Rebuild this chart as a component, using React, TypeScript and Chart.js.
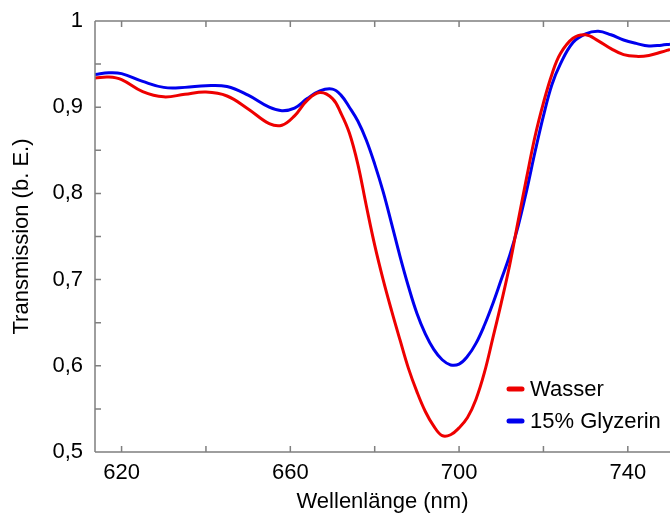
import React, { useEffect, useRef } from 'react';
import { Chart, registerables } from 'chart.js';
Chart.register(...registerables);

const wavelengths = [613.7, 617, 620, 625, 630, 635, 640, 645, 650, 655, 658, 661, 664, 667,
  670, 672, 674, 676, 678, 680, 682, 684, 686, 688, 690, 692, 694, 696, 698, 700, 702, 704, 706, 708, 710, 712, 714, 716, 718, 720, 722, 724,
  727, 730, 733, 736, 739, 742, 745, 748, 750];
const wasser = [0.934, 0.935, 0.932, 0.918, 0.912, 0.915, 0.9175, 0.913, 0.898, 0.881, 0.879, 0.890, 0.908, 0.917,
  0.910, 0.893, 0.870, 0.834, 0.786, 0.740, 0.700, 0.664, 0.630, 0.597, 0.570, 0.547, 0.530, 0.519, 0.520, 0.528, 0.540, 0.561, 0.592, 0.632, 0.673, 0.717, 0.768, 0.818, 0.866, 0.905, 0.938, 0.962,
  0.980, 0.984, 0.977, 0.968, 0.961, 0.959, 0.960, 0.964, 0.967];
const glyzerin = [0.938, 0.940, 0.939, 0.930, 0.923, 0.923, 0.925, 0.924, 0.914, 0.900, 0.896, 0.899, 0.910, 0.919,
  0.921, 0.914, 0.900, 0.884, 0.862, 0.834, 0.802, 0.765, 0.727, 0.692, 0.661, 0.637, 0.619, 0.607, 0.601, 0.602, 0.611, 0.626, 0.647, 0.672, 0.700, 0.728, 0.762, 0.803, 0.848, 0.890, 0.926, 0.950,
  0.975, 0.985, 0.988, 0.984, 0.978, 0.974, 0.971, 0.972, 0.973];
const seriesLabels = ['Wasser', '15% Glyzerin'];
const seriesColors = ['#ee0000', '#0000ee'];
const xTicks = [620, 640, 660, 680, 700, 720, 740];
const xLabeled = [620, 660, 700, 740];
const yTicks = [0.5, 0.55, 0.6, 0.65, 0.7, 0.75, 0.8, 0.85, 0.9, 0.95, 1];

const FONT = "'Liberation Sans', Arial, sans-serif";

export default function App() {
  const ref = useRef<HTMLCanvasElement>(null);
  useEffect(() => {
    document.body.style.margin = '0';
    const canvas = ref.current!;
    const frame = {
      id: 'frame',
      afterDatasetsDraw(chart: any) {
        const { ctx, chartArea } = chart;
        const { left, right, top, bottom } = chartArea;
        const xs = chart.scales.x;
        const ys = chart.scales.y;
        ctx.save();
        ctx.strokeStyle = '#7f7f7f';
        ctx.lineWidth = 1.5;
        ctx.beginPath();
        ctx.moveTo(left, top); ctx.lineTo(right + 2, top);
        ctx.moveTo(left, top); ctx.lineTo(left, bottom);
        ctx.moveTo(left, bottom); ctx.lineTo(right + 2, bottom);
        const tl = 6;
        xTicks.forEach(v => {
          const px = xs.getPixelForValue(v);
          ctx.moveTo(px, bottom); ctx.lineTo(px, bottom - tl);
          ctx.moveTo(px, top); ctx.lineTo(px, top + tl);
        });
        yTicks.forEach(v => {
          const py = ys.getPixelForValue(v);
          ctx.moveTo(left, py); ctx.lineTo(left + tl, py);
        });
        ctx.stroke();
        // legend
        const lx = 507, ly = 389, gap = 32;
        chart.data.datasets.forEach((ds: any, i: number) => {
          const y = ly + i * gap;
          ctx.strokeStyle = ds.borderColor;
          ctx.lineWidth = 5;
          ctx.lineCap = 'round';
          ctx.beginPath();
          ctx.moveTo(lx + 2, y); ctx.lineTo(lx + 15, y);
          ctx.stroke();
          ctx.fillStyle = '#000';
          ctx.font = `22px ${FONT}`;
          ctx.textBaseline = 'middle';
          ctx.textAlign = 'left';
          ctx.fillText(ds.label, lx + 23, y + 1);
        });
        ctx.restore();
      }
    };
    const chart = new Chart(canvas, {
      type: 'line',
      data: {
        datasets: [wasser, glyzerin].map((vals, i) => ({
          label: seriesLabels[i],
          data: wavelengths.map((x, j) => ({ x, y: vals[j] })),
          borderColor: seriesColors[i],
          backgroundColor: seriesColors[i],
          borderWidth: 3,
          pointRadius: 0,
          tension: 0.4,
          fill: false,
        })),
      },
      options: {
        animation: false,
        responsive: false,
        maintainAspectRatio: false,
        layout: { padding: { top: 21, right: 0, left: 0, bottom: 0 } },
        plugins: { legend: { display: false }, tooltip: { enabled: false } },
        scales: {
          x: {
            type: 'linear',
            min: 613.7,
            max: 750,
            afterBuildTicks: (s: any) => { s.ticks = xTicks.map(v => ({ value: v })); },
            afterFit: (s: any) => { s.height = 63; s.paddingLeft = 0; s.paddingRight = 0; },
            grid: { display: false, drawTicks: false },
            border: { display: false },
            ticks: {
              autoSkip: false,
              maxRotation: 0,
              padding: 8,
              color: '#000',
              font: { family: FONT, size: 22 },
              callback: (v: any) => (xLabeled.includes(Number(v)) ? String(v) : ''),
            },
            title: {
              display: true,
              text: 'Wellenlänge (nm)',
              color: '#000',
              font: { family: FONT, size: 22 },
              padding: { top: 0, bottom: 0 },
            },
          },
          y: {
            min: 0.5,
            max: 1,
            afterBuildTicks: (s: any) => { s.ticks = yTicks.map(v => ({ value: v })); },
            afterFit: (s: any) => { s.width = 95; s.paddingTop = 0; s.paddingBottom = 0; },
            grid: { display: false, drawTicks: false },
            border: { display: false },
            ticks: {
              autoSkip: false,
              padding: 12,
              color: '#000',
              font: { family: FONT, size: 22 },
              callback: (v: any) => {
                const n = Math.round(Number(v) * 100);
                if (n % 10 !== 0) return '';
                return n === 100 ? '1' : (n / 100).toFixed(1).replace('.', ',');
              },
            },
            title: {
              display: true,
              text: 'Transmission (b. E.)',
              color: '#000',
              font: { family: FONT, size: 22 },
              padding: { top: 9, bottom: 0 },
            },
          },
        },
      },
      plugins: [frame],
    });
    return () => chart.destroy();
  }, []);
  return (
    <div style={{ position: 'absolute', left: 0, top: 0, width: 670, height: 515, background: '#fff' }}>
      <canvas ref={ref} width={670} height={515} style={{ width: 670, height: 515 }} />
    </div>
  );
}
